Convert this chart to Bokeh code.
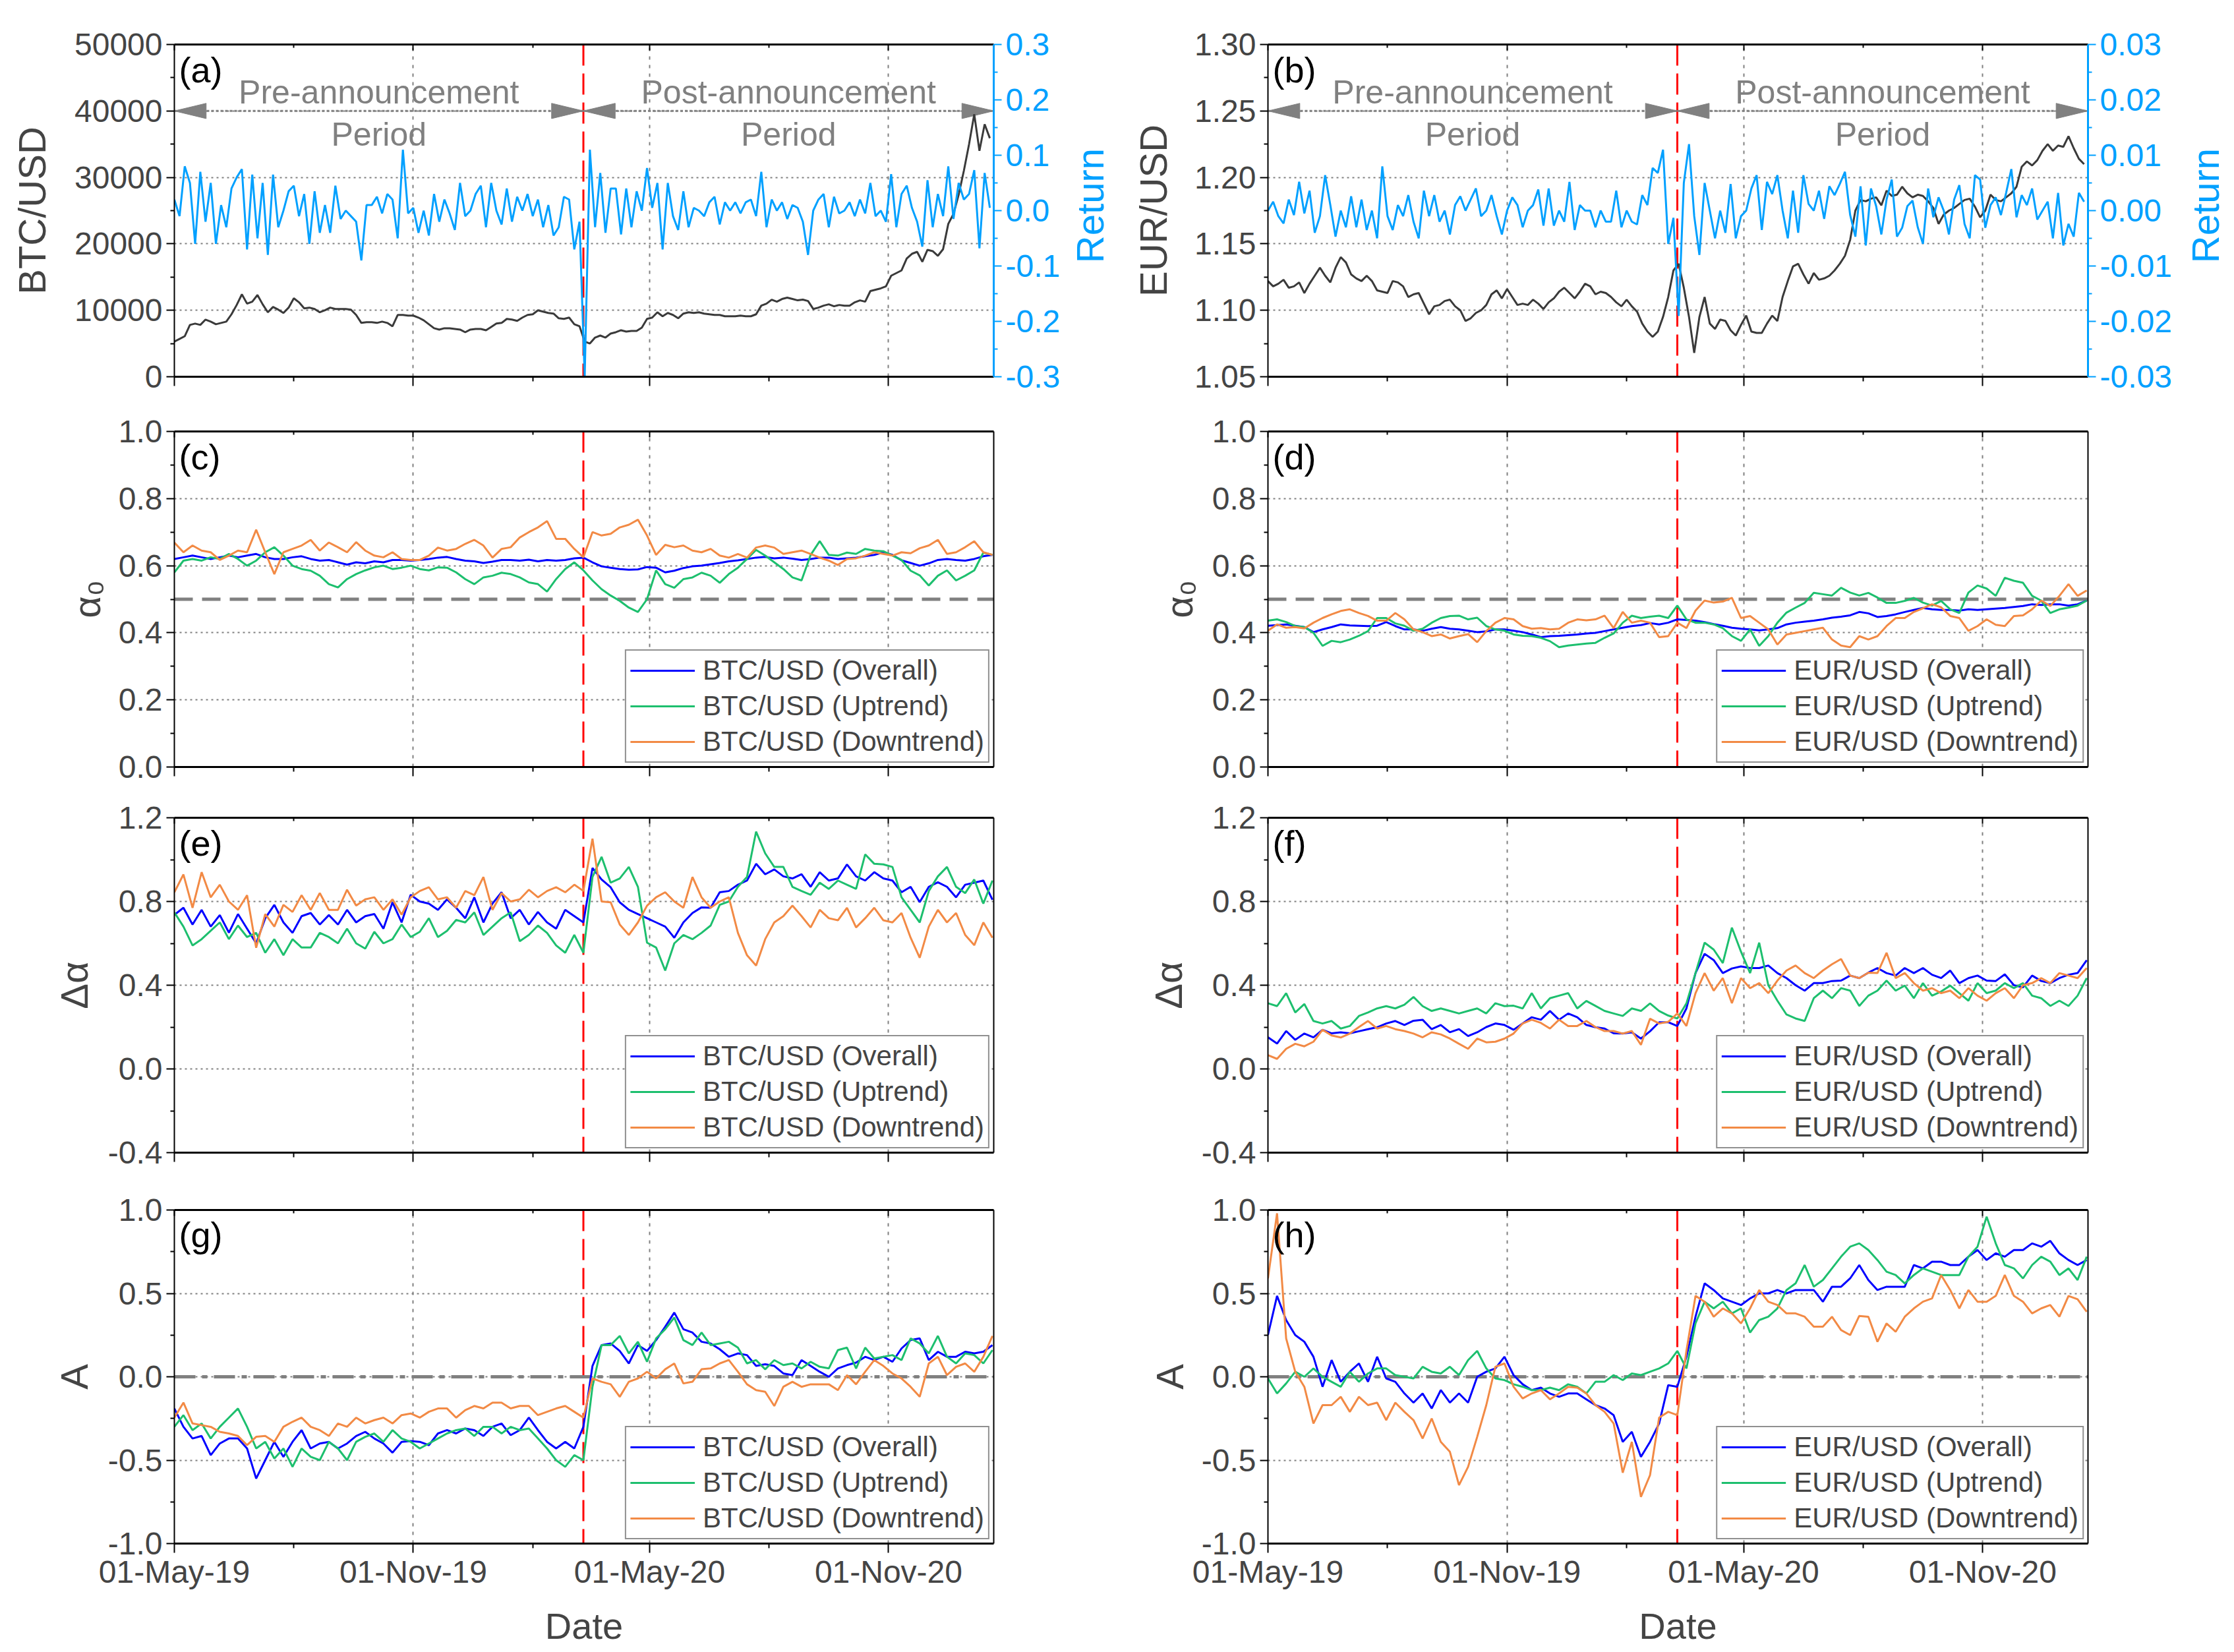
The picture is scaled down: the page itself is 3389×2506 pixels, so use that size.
import math
import pandas as pd
from bokeh.plotting import figure
from bokeh.layouts import column, row
from bokeh.models import (Range1d, LinearAxis, DatetimeAxis, FixedTicker, DatetimeTickFormatter,
                          NumeralTickFormatter, CustomJSTickFormatter, Span, Label)
from bokeh.core.properties import value
from bokeh.embed import file_html
from bokeh.resources import INLINE

# ---------------- data ----------------
START_DATE = "2019-05-01"
END_DATE = "2021-01-21"
EVENT_DATE = "2020-03-11"          # pandemic announcement (red dashed line)
MAJOR_DATES = ["2019-05-01", "2019-11-01", "2020-05-01", "2020-11-01"]
MINOR_DATES = ["2019-08-01", "2020-02-01", "2020-08-01"]
PRICE_STEP_DAYS = 4                # sampling step of price / return series
IND_STEP_DAYS = 7                  # sampling step of indicator series

btc_price = [
    5300, 5700, 6100, 7800, 8000, 7800, 8600, 8300, 7900, 8100,
    8300, 9400, 10800, 12400, 11000, 11300, 12300, 10900, 9700, 10500,
    10100, 9600, 10400, 11800, 11200, 10300, 10400, 10200, 9700, 10000,
    10400, 10200, 10200, 10200, 10100, 9300, 8100, 8200, 8200, 8100,
    8300, 8100, 7600, 9300, 9300, 9200, 9200, 8900, 8500, 7900,
    7300, 7100, 7300, 7300, 7200, 7100, 6700, 7100, 7200, 7200,
    7000, 7500, 8000, 8100, 8700, 8600, 8400, 8900, 9300, 9400,
    10000, 9800, 9600, 9500, 8800, 8700, 8900, 7900, 7600, 5300,
    5000, 5900, 6200, 5900, 6500, 6700, 7000, 6800, 6900, 6900,
    7400, 8700, 8900, 9700, 9100, 9600, 9300, 8800, 9500, 9700,
    9600, 9700, 9500, 9400, 9300, 9300, 9100, 9100, 9100, 9200,
    9100, 9100, 9400, 10700, 11000, 11600, 11300, 11700, 11900, 11700,
    11500, 11600, 11400, 10200, 10400, 10700, 10900, 10600, 10800, 10700,
    10700, 11200, 11500, 11300, 12900, 13100, 13300, 13600, 15200, 15600,
    16000, 17800, 18500, 18800, 17300, 19100, 18900, 18200, 19200, 23000,
    24500, 27400, 31000, 35000, 39500, 34000, 38000, 35900]

btc_return = [
    0.02, -0.01, 0.08, 0.05, -0.06, 0.07, -0.02, 0.05, -0.06, 0.01,
    -0.03, 0.04, 0.06, 0.075, -0.07, 0.065, -0.05, 0.05, -0.08, 0.065,
    -0.03, 0.0, 0.035, 0.045, -0.01, 0.03, -0.06, 0.035, -0.04, 0.01,
    -0.04, 0.045, -0.015, 0.0, -0.01, -0.02, -0.09, 0.01, 0.01, 0.025,
    -0.005, 0.03, 0.02, -0.05, 0.11, -0.005, 0.005, -0.04, 0.0, -0.045,
    0.03, -0.02, 0.02, -0.005, -0.035, 0.05, -0.01, 0.0, 0.03, 0.045,
    -0.03, 0.05, 0.0, -0.025, 0.04, -0.02, 0.025, 0.0, 0.03, -0.01,
    0.02, -0.03, 0.01, -0.045, -0.03, 0.025, 0.02, -0.07, -0.02, -0.30,
    0.11, -0.03, 0.068, -0.04, 0.04, 0.04, -0.043, 0.04, -0.03, 0.035,
    0.0, 0.077, 0.005, 0.05, -0.07, 0.05, -0.01, -0.035, 0.035, -0.03,
    0.005, 0.0, -0.01, 0.015, 0.025, -0.025, 0.015, 0.0, 0.015, -0.005,
    0.015, 0.02, -0.01, 0.07, -0.03, 0.02, 0.0, 0.015, -0.015, 0.01,
    0.005, -0.02, -0.08, 0.0, 0.02, 0.03, -0.03, 0.025, -0.005, 0.0,
    0.015, -0.01, 0.02, -0.005, 0.05, -0.01, 0.0, -0.02, 0.066, -0.03,
    0.03, 0.045, 0.005, -0.02, -0.065, 0.055, -0.03, 0.03, -0.01, 0.08,
    -0.015, 0.05, 0.02, 0.03, 0.073, -0.068, 0.068, 0.005]

eur_price = [
    1.122, 1.118, 1.120, 1.123, 1.117, 1.118, 1.121, 1.113, 1.120, 1.126,
    1.132, 1.126, 1.121, 1.132, 1.140, 1.136, 1.127, 1.124, 1.122, 1.126,
    1.122, 1.115, 1.114, 1.113, 1.122, 1.121, 1.118, 1.110, 1.112, 1.113,
    1.105, 1.097, 1.103, 1.104, 1.107, 1.108, 1.103, 1.100, 1.092, 1.094,
    1.098, 1.100, 1.104, 1.112, 1.115, 1.109, 1.116, 1.110, 1.104, 1.105,
    1.104, 1.108, 1.105, 1.101, 1.106, 1.109, 1.114, 1.117, 1.113, 1.109,
    1.114, 1.120, 1.118, 1.112, 1.114, 1.113, 1.110, 1.106, 1.103, 1.108,
    1.103, 1.099, 1.090, 1.084, 1.080, 1.084, 1.095, 1.110, 1.130, 1.135,
    1.117, 1.095, 1.068, 1.095, 1.110, 1.090, 1.086, 1.093, 1.092, 1.085,
    1.081, 1.089, 1.096, 1.084, 1.083, 1.083, 1.090, 1.096, 1.092, 1.110,
    1.122, 1.133, 1.135, 1.127, 1.120, 1.128, 1.123, 1.124, 1.126, 1.130,
    1.135, 1.141, 1.153, 1.175, 1.183, 1.182, 1.184, 1.185, 1.179, 1.190,
    1.186, 1.187, 1.193, 1.188, 1.185, 1.187, 1.186, 1.182, 1.177, 1.165,
    1.172, 1.175, 1.177, 1.180, 1.183, 1.184, 1.178, 1.170, 1.175, 1.187,
    1.183, 1.182, 1.185, 1.188, 1.193, 1.208, 1.212, 1.209, 1.213, 1.220,
    1.225, 1.220, 1.224, 1.223, 1.231, 1.222, 1.214, 1.210]

eur_return = [
    0.0, 0.0016, -0.001, -0.0023, 0.002, -0.0008, 0.0052, -0.0005, 0.0036, -0.004,
    -0.001, 0.0064, 0.001, -0.0047, 0.0, -0.003, 0.0026, -0.003, 0.002, -0.0035,
    0.0, -0.005, 0.008, -0.001, -0.0035, 0.001, -0.001, 0.0028, -0.002, -0.005,
    0.0036, -0.001, 0.0028, -0.002, 0.0, -0.0043, 0.001, 0.0026, 0.0, 0.002,
    0.004, -0.001, 0.0, 0.0028, -0.001, -0.0043, 0.0, 0.0024, 0.001, -0.003,
    0.0, 0.001, 0.0038, -0.0027, 0.004, -0.0027, 0.0, -0.002, 0.0052, -0.0035,
    0.001, 0.0, 0.0, -0.003, 0.0, -0.002, -0.002, 0.0036, -0.003, 0.0,
    -0.002, -0.0025, 0.0028, 0.001, 0.0077, 0.0068, 0.011, -0.006, -0.0013, -0.019,
    0.005, 0.012, -0.001, -0.008, 0.005, 0.0, -0.005, 0.0, -0.004, 0.0048,
    -0.005, -0.001, 0.0, 0.004, 0.0064, -0.0035, 0.0052, 0.003, 0.0064, 0.0,
    -0.005, 0.0036, -0.004, 0.0064, 0.0012, 0.0, 0.0036, -0.0015, 0.0044, 0.0028,
    0.0048, 0.007, -0.0008, -0.0047, 0.0044, -0.0063, 0.004, 0.0008, -0.0043, 0.002,
    0.0056, -0.0047, -0.0031, 0.0008, 0.0018, -0.003, -0.006, 0.004, -0.0012, 0.0024,
    0.0, -0.0043, 0.002, 0.0046, -0.0024, -0.005, 0.0064, 0.0056, -0.0031, 0.001,
    0.0024, -0.0008, 0.0032, 0.0075, -0.0012, 0.0028, 0.001, 0.004, -0.0016, 0.0,
    0.0016, -0.005, 0.0032, -0.0063, -0.0024, -0.0047, 0.0032, 0.0016]

# (c) alpha0, BTC/USD
c_overall = [
    0.62, 0.625, 0.63, 0.625, 0.62, 0.625, 0.63, 0.625, 0.63, 0.635,
    0.625, 0.62, 0.62, 0.625, 0.628, 0.62, 0.615, 0.617, 0.61, 0.603,
    0.61, 0.607, 0.613, 0.61, 0.617, 0.617, 0.615, 0.617, 0.62, 0.624,
    0.626, 0.62, 0.615, 0.613, 0.608, 0.612, 0.617, 0.617, 0.615, 0.618,
    0.613, 0.617, 0.615, 0.617, 0.622, 0.624, 0.61, 0.598, 0.594, 0.59,
    0.588, 0.589, 0.596, 0.594, 0.58, 0.585, 0.593, 0.598, 0.6, 0.604,
    0.608, 0.613, 0.616, 0.62, 0.624, 0.626, 0.622, 0.624, 0.621, 0.617,
    0.62, 0.624, 0.624, 0.62, 0.622, 0.624, 0.628, 0.632, 0.64, 0.632,
    0.616, 0.608, 0.60, 0.607, 0.617, 0.62, 0.617, 0.615, 0.62, 0.628,
    0.632]
c_uptrend = [
    0.58, 0.615, 0.62, 0.615, 0.625, 0.62, 0.635, 0.62, 0.60, 0.615,
    0.64, 0.655, 0.63, 0.6, 0.59, 0.585, 0.57, 0.545, 0.535, 0.56,
    0.575, 0.586, 0.595, 0.60, 0.59, 0.594, 0.60, 0.59, 0.586, 0.595,
    0.594, 0.58, 0.56, 0.545, 0.565, 0.57, 0.579, 0.575, 0.565, 0.55,
    0.545, 0.523, 0.56, 0.59, 0.61, 0.586, 0.556, 0.53, 0.511, 0.495,
    0.475, 0.462, 0.5, 0.586, 0.545, 0.534, 0.56, 0.565, 0.579, 0.57,
    0.549, 0.575, 0.594, 0.62, 0.647, 0.63, 0.61, 0.59, 0.565, 0.556,
    0.632, 0.673, 0.632, 0.63, 0.639, 0.635, 0.65, 0.645, 0.643, 0.63,
    0.617, 0.585, 0.571, 0.541, 0.57, 0.586, 0.556, 0.57, 0.586, 0.639,
    0.632]
c_downtrend = [
    0.669, 0.64, 0.66, 0.645, 0.64, 0.617, 0.63, 0.645, 0.64, 0.707,
    0.64, 0.575, 0.64, 0.65, 0.66, 0.677, 0.645, 0.669, 0.655, 0.64,
    0.67, 0.645, 0.63, 0.625, 0.64, 0.62, 0.617, 0.617, 0.63, 0.654,
    0.645, 0.65, 0.665, 0.677, 0.66, 0.624, 0.65, 0.655, 0.684, 0.70,
    0.714, 0.733, 0.68, 0.68, 0.65, 0.625, 0.70, 0.69, 0.695, 0.714,
    0.722, 0.737, 0.69, 0.632, 0.662, 0.655, 0.66, 0.645, 0.64, 0.65,
    0.63, 0.624, 0.635, 0.624, 0.654, 0.66, 0.654, 0.635, 0.64, 0.645,
    0.635, 0.624, 0.615, 0.602, 0.62, 0.622, 0.63, 0.64, 0.635, 0.63,
    0.64, 0.637, 0.652, 0.66, 0.677, 0.635, 0.64, 0.655, 0.673, 0.64,
    0.632]

# (d) alpha0, EUR/USD
d_overall = [
    0.421, 0.423, 0.425, 0.421, 0.417, 0.402, 0.41, 0.417, 0.425, 0.422,
    0.421, 0.42, 0.421, 0.432, 0.42, 0.41, 0.41, 0.406, 0.412, 0.417,
    0.412, 0.41, 0.406, 0.402, 0.404, 0.41, 0.41, 0.406, 0.402, 0.395,
    0.387, 0.39, 0.391, 0.393, 0.395, 0.398, 0.40, 0.405, 0.41, 0.415,
    0.42, 0.423, 0.429, 0.425, 0.43, 0.44, 0.438, 0.436, 0.432, 0.426,
    0.421, 0.415, 0.412, 0.41, 0.407, 0.41, 0.414, 0.425, 0.43, 0.433,
    0.436, 0.44, 0.445, 0.448, 0.452, 0.462, 0.458, 0.447, 0.45, 0.455,
    0.462, 0.468, 0.474, 0.47, 0.468, 0.468, 0.466, 0.47, 0.468, 0.47,
    0.472, 0.474, 0.477, 0.48, 0.485, 0.483, 0.485, 0.485, 0.481, 0.485,
    0.496]
d_uptrend = [
    0.436, 0.44, 0.432, 0.42, 0.417, 0.40, 0.361, 0.376, 0.372, 0.38,
    0.391, 0.405, 0.444, 0.444, 0.428, 0.421, 0.406, 0.412, 0.43, 0.444,
    0.45, 0.451, 0.44, 0.445, 0.42, 0.41, 0.406, 0.395, 0.391, 0.39,
    0.385, 0.375, 0.357, 0.362, 0.365, 0.368, 0.37, 0.385, 0.398, 0.43,
    0.451, 0.444, 0.448, 0.451, 0.444, 0.481, 0.44, 0.43, 0.43, 0.425,
    0.414, 0.39, 0.376, 0.41, 0.361, 0.39, 0.43, 0.46, 0.475, 0.489,
    0.519, 0.515, 0.511, 0.534, 0.52, 0.511, 0.519, 0.505, 0.489, 0.489,
    0.495, 0.504, 0.49, 0.481, 0.495, 0.47, 0.459, 0.52, 0.541, 0.532,
    0.51, 0.564, 0.555, 0.549, 0.51, 0.496, 0.459, 0.47, 0.475, 0.481,
    0.496]
d_downtrend = [
    0.406, 0.425, 0.415, 0.417, 0.413, 0.43, 0.444, 0.455, 0.465, 0.47,
    0.459, 0.45, 0.436, 0.436, 0.459, 0.44, 0.41, 0.402, 0.39, 0.395,
    0.383, 0.39, 0.396, 0.372, 0.405, 0.43, 0.444, 0.44, 0.42, 0.412,
    0.414, 0.41, 0.412, 0.43, 0.44, 0.437, 0.44, 0.451, 0.414, 0.462,
    0.43, 0.436, 0.43, 0.387, 0.39, 0.43, 0.414, 0.466, 0.496, 0.49,
    0.493, 0.504, 0.444, 0.45, 0.43, 0.41, 0.365, 0.395, 0.40, 0.405,
    0.41, 0.415, 0.38, 0.362, 0.357, 0.39, 0.38, 0.39, 0.42, 0.444,
    0.444, 0.462, 0.473, 0.485, 0.476, 0.45, 0.444, 0.406, 0.42, 0.44,
    0.424, 0.42, 0.45, 0.452, 0.47, 0.496, 0.48, 0.51, 0.545, 0.51,
    0.526]

# (e) delta alpha, BTC/USD
e_overall = [
    0.736, 0.77, 0.69, 0.76, 0.68, 0.735, 0.651, 0.74, 0.67, 0.60,
    0.72, 0.784, 0.70, 0.65, 0.73, 0.745, 0.69, 0.735, 0.69, 0.76,
    0.70, 0.73, 0.74, 0.67, 0.796, 0.70, 0.832, 0.80, 0.79, 0.76,
    0.81, 0.77, 0.72, 0.82, 0.70, 0.79, 0.844, 0.72, 0.76, 0.69,
    0.75, 0.70, 0.67, 0.76, 0.73, 0.70, 0.96, 0.905, 0.868, 0.796,
    0.76, 0.74, 0.72, 0.70, 0.68, 0.627, 0.70, 0.745, 0.772, 0.77,
    0.844, 0.85, 0.88, 0.90, 0.98, 0.93, 0.953, 0.92, 0.91, 0.93,
    0.87, 0.94, 0.90, 0.91, 0.977, 0.92, 0.90, 0.94, 0.91, 0.90,
    0.844, 0.87, 0.797, 0.87, 0.892, 0.87, 0.82, 0.88, 0.89, 0.90,
    0.808]
e_uptrend = [
    0.748, 0.68, 0.59, 0.62, 0.66, 0.70, 0.62, 0.685, 0.63, 0.65,
    0.555, 0.62, 0.543, 0.62, 0.58, 0.58, 0.65, 0.63, 0.60, 0.67,
    0.60, 0.575, 0.655, 0.60, 0.62, 0.69, 0.63, 0.655, 0.72, 0.63,
    0.66, 0.712, 0.70, 0.748, 0.64, 0.68, 0.72, 0.748, 0.61, 0.64,
    0.685, 0.65, 0.59, 0.555, 0.64, 0.555, 0.917, 1.013, 0.89, 0.91,
    0.965, 0.87, 0.603, 0.58, 0.47, 0.60, 0.64, 0.62, 0.65, 0.685,
    0.784, 0.80, 0.87, 0.917, 1.134, 1.03, 0.965, 0.965, 0.87, 0.85,
    0.832, 0.89, 0.86, 0.90, 0.88, 0.86, 1.025, 0.98, 0.977, 0.965,
    0.82, 0.76, 0.70, 0.85, 0.92, 0.965, 0.87, 0.84, 0.905, 0.79,
    0.90]
e_downtrend = [
    0.844, 0.929, 0.77, 0.94, 0.82, 0.88, 0.80, 0.76, 0.83, 0.579,
    0.74, 0.68, 0.784, 0.75, 0.83, 0.76, 0.84, 0.76, 0.76, 0.856,
    0.78, 0.81, 0.82, 0.76, 0.81, 0.737, 0.82, 0.85, 0.868, 0.81,
    0.82, 0.77, 0.85, 0.83, 0.917, 0.76, 0.84, 0.80, 0.81, 0.856,
    0.82, 0.85, 0.868, 0.844, 0.88, 0.85, 1.10, 0.80, 0.796, 0.69,
    0.64, 0.70, 0.78, 0.82, 0.844, 0.80, 0.77, 0.917, 0.82, 0.77,
    0.80, 0.82, 0.65, 0.543, 0.494, 0.62, 0.70, 0.73, 0.78, 0.73,
    0.676, 0.76, 0.72, 0.71, 0.77, 0.676, 0.72, 0.77, 0.71, 0.70,
    0.745, 0.627, 0.531, 0.68, 0.76, 0.70, 0.745, 0.64, 0.591, 0.70,
    0.627]

# (f) delta alpha, EUR/USD
f_overall = [
    0.151, 0.121, 0.181, 0.139, 0.169, 0.151, 0.187, 0.17, 0.175, 0.17,
    0.18, 0.19, 0.199, 0.217, 0.229, 0.21, 0.23, 0.235, 0.19, 0.21,
    0.175, 0.19, 0.157, 0.175, 0.20, 0.217, 0.21, 0.187, 0.217, 0.247,
    0.235, 0.277, 0.235, 0.265, 0.247, 0.21, 0.199, 0.193, 0.17, 0.169,
    0.175, 0.145, 0.18, 0.223, 0.223, 0.205, 0.289, 0.458, 0.55, 0.52,
    0.458, 0.48, 0.49, 0.482, 0.482, 0.494, 0.458, 0.434, 0.40, 0.374,
    0.41, 0.41, 0.42, 0.422, 0.446, 0.434, 0.46, 0.482, 0.458, 0.446,
    0.482, 0.458, 0.482, 0.45, 0.434, 0.47, 0.41, 0.434, 0.446, 0.422,
    0.42, 0.452, 0.40, 0.39, 0.446, 0.42, 0.41, 0.434, 0.45, 0.458,
    0.519]
f_uptrend = [
    0.314, 0.30, 0.362, 0.27, 0.31, 0.229, 0.217, 0.229, 0.193, 0.205,
    0.253, 0.27, 0.289, 0.30, 0.289, 0.307, 0.344, 0.30, 0.277, 0.289,
    0.277, 0.265, 0.277, 0.289, 0.265, 0.314, 0.30, 0.302, 0.289, 0.362,
    0.289, 0.338, 0.35, 0.362, 0.289, 0.325, 0.301, 0.277, 0.265, 0.253,
    0.289, 0.277, 0.313, 0.277, 0.255, 0.241, 0.313, 0.458, 0.603, 0.57,
    0.506, 0.675, 0.56, 0.458, 0.603, 0.40, 0.326, 0.26, 0.241, 0.229,
    0.338, 0.374, 0.338, 0.386, 0.374, 0.301, 0.35, 0.374, 0.422, 0.374,
    0.398, 0.338, 0.41, 0.35, 0.37, 0.398, 0.362, 0.326, 0.41, 0.362,
    0.374, 0.41, 0.386, 0.41, 0.35, 0.338, 0.301, 0.326, 0.301, 0.35,
    0.434]
f_downtrend = [
    0.066, 0.048, 0.096, 0.12, 0.108, 0.13, 0.187, 0.16, 0.15, 0.169,
    0.2, 0.229, 0.193, 0.205, 0.19, 0.181, 0.169, 0.151, 0.175, 0.165,
    0.145, 0.12, 0.096, 0.145, 0.127, 0.13, 0.145, 0.169, 0.217, 0.235,
    0.22, 0.193, 0.235, 0.205, 0.205, 0.229, 0.20, 0.181, 0.181, 0.169,
    0.181, 0.115, 0.24, 0.217, 0.225, 0.265, 0.205, 0.362, 0.458, 0.374,
    0.434, 0.314, 0.434, 0.386, 0.41, 0.362, 0.422, 0.47, 0.494, 0.458,
    0.434, 0.47, 0.50, 0.525, 0.446, 0.434, 0.46, 0.458, 0.555, 0.434,
    0.458, 0.41, 0.374, 0.386, 0.362, 0.374, 0.338, 0.386, 0.35, 0.326,
    0.362, 0.386, 0.338, 0.40, 0.41, 0.434, 0.41, 0.458, 0.446, 0.434,
    0.482]

# (g) A, BTC/USD
g_overall = [
    -0.19, -0.30, -0.37, -0.355, -0.47, -0.40, -0.37, -0.37, -0.43, -0.61,
    -0.50, -0.39, -0.48, -0.39, -0.32, -0.43, -0.40, -0.39, -0.43, -0.40,
    -0.355, -0.33, -0.37, -0.40, -0.455, -0.39, -0.385, -0.39, -0.41, -0.34,
    -0.32, -0.34, -0.31, -0.32, -0.355, -0.30, -0.28, -0.35, -0.32, -0.245,
    -0.32, -0.39, -0.43, -0.39, -0.43, -0.30, 0.065, 0.19, 0.20, 0.155,
    0.08, 0.19, 0.155, 0.22, 0.30, 0.385, 0.285, 0.265, 0.21, 0.20,
    0.165, 0.12, 0.14, 0.13, 0.065, 0.075, 0.065, 0.02, 0.01, 0.10,
    0.065, 0.03, 0.0, 0.05, 0.07, 0.085, 0.12, 0.10, 0.12, 0.09,
    0.17, 0.22, 0.23, 0.10, 0.15, 0.12, 0.12, 0.15, 0.14, 0.15,
    0.19]
g_uptrend = [
    -0.30, -0.23, -0.32, -0.28, -0.37, -0.30, -0.245, -0.19, -0.30, -0.43,
    -0.39, -0.49, -0.43, -0.54, -0.43, -0.48, -0.50, -0.39, -0.43, -0.50,
    -0.39, -0.36, -0.34, -0.39, -0.32, -0.37, -0.39, -0.43, -0.40, -0.37,
    -0.34, -0.32, -0.31, -0.355, -0.30, -0.30, -0.34, -0.30, -0.32, -0.31,
    -0.37, -0.43, -0.50, -0.54, -0.47, -0.50, -0.06, 0.19, 0.19, 0.245,
    0.14, 0.21, 0.09, 0.23, 0.285, 0.355, 0.22, 0.19, 0.265, 0.19,
    0.20, 0.21, 0.175, 0.08, 0.10, 0.045, 0.10, 0.07, 0.08, 0.05,
    0.09, 0.06, 0.05, 0.16, 0.175, 0.05, 0.175, 0.11, 0.12, 0.13,
    0.10, 0.23, 0.20, 0.14, 0.245, 0.12, 0.08, 0.14, 0.13, 0.08,
    0.16]
g_downtrend = [
    -0.245, -0.155, -0.28, -0.29, -0.30, -0.33, -0.34, -0.355, -0.41, -0.36,
    -0.355, -0.39, -0.30, -0.27, -0.245, -0.30, -0.32, -0.355, -0.28, -0.30,
    -0.245, -0.28, -0.26, -0.245, -0.28, -0.23, -0.22, -0.245, -0.21, -0.19,
    -0.19, -0.245, -0.20, -0.175, -0.19, -0.155, -0.155, -0.19, -0.175, -0.175,
    -0.23, -0.21, -0.19, -0.175, -0.21, -0.245, -0.01, -0.03, -0.045, -0.12,
    -0.03, -0.01, 0.03, -0.01, 0.045, 0.08, -0.04, -0.03, 0.045, 0.05,
    0.08, 0.10, 0.03, -0.045, -0.08, -0.09, -0.175, -0.06, -0.03, -0.06,
    -0.045, -0.045, -0.045, -0.08, 0.01, -0.045, 0.03, 0.10, 0.065, 0.02,
    -0.01, -0.06, -0.12, 0.08, 0.12, 0.01, 0.06, 0.08, 0.03, 0.12,
    0.245]

# (h) A, EUR/USD
h_overall = [
    0.25, 0.485, 0.34, 0.25, 0.21, 0.12, -0.06, 0.10, -0.03, 0.03,
    0.08, -0.03, 0.12, -0.01, -0.03, -0.10, -0.155, -0.10, -0.19, -0.08,
    -0.155, -0.10, -0.155, 0.0, 0.03, 0.05, 0.12, 0.01, -0.045, -0.08,
    -0.065, -0.10, -0.12, -0.10, -0.10, -0.135, -0.17, -0.19, -0.23, -0.39,
    -0.33, -0.48, -0.39, -0.28, -0.05, -0.06, 0.12, 0.36, 0.56, 0.52,
    0.47, 0.45, 0.43, 0.47, 0.50, 0.50, 0.52, 0.50, 0.52, 0.52,
    0.52, 0.45, 0.54, 0.54, 0.59, 0.67, 0.58, 0.52, 0.54, 0.54,
    0.54, 0.67, 0.65, 0.69, 0.69, 0.67, 0.67, 0.72, 0.76, 0.70,
    0.74, 0.72, 0.76, 0.76, 0.80, 0.78, 0.815, 0.74, 0.70, 0.67,
    0.70]
h_uptrend = [
    -0.01, -0.10, -0.04, 0.03, 0.0, 0.05, 0.0, -0.03, -0.06, 0.03,
    -0.03, 0.02, 0.05, 0.05, 0.01, 0.0, -0.01, 0.06, 0.03, 0.02,
    0.06, 0.01, 0.10, 0.155, 0.05, -0.01, -0.02, -0.045, -0.06, -0.08,
    -0.08, -0.065, -0.08, -0.045, -0.06, -0.10, -0.03, -0.03, 0.01, -0.02,
    0.02, 0.01, 0.03, 0.05, 0.08, 0.155, 0.05, 0.32, 0.45, 0.41,
    0.45, 0.38, 0.41, 0.265, 0.34, 0.36, 0.41, 0.52, 0.56, 0.67,
    0.54, 0.58, 0.65, 0.72, 0.78, 0.80, 0.76, 0.70, 0.63, 0.61,
    0.56, 0.61, 0.65, 0.63, 0.61, 0.61, 0.61, 0.72, 0.78, 0.96,
    0.80, 0.67, 0.65, 0.59, 0.67, 0.72, 0.69, 0.61, 0.65, 0.58,
    0.72]
h_downtrend = [
    0.59, 0.98, 0.23, 0.03, -0.06, -0.28, -0.17, -0.17, -0.12, -0.21,
    -0.12, -0.17, -0.155, -0.26, -0.155, -0.21, -0.26, -0.37, -0.25, -0.39,
    -0.45, -0.65, -0.54, -0.36, -0.17, 0.06, 0.08, -0.06, -0.13, -0.10,
    -0.08, -0.135, -0.10, -0.06, -0.065, -0.10, -0.17, -0.21, -0.28, -0.575,
    -0.39, -0.72, -0.59, -0.245, -0.21, -0.23, 0.155, 0.485, 0.45, 0.36,
    0.41, 0.38, 0.32, 0.41, 0.52, 0.45, 0.43, 0.38, 0.38, 0.36,
    0.30, 0.30, 0.36, 0.28, 0.25, 0.365, 0.36, 0.21, 0.32, 0.27,
    0.36, 0.41, 0.45, 0.47, 0.61, 0.52, 0.41, 0.52, 0.45, 0.45,
    0.485, 0.61, 0.485, 0.45, 0.38, 0.41, 0.43, 0.36, 0.485, 0.465,
    0.39]

# ---------------- styling ----------------
FONT = "Liberation Sans"
C_PRICE = "#3A3A3A"
C_RET = "#00A0FF"
C_OVR, C_UP, C_DN = "#0000FF", "#1DBF6E", "#F28A45"
GRAY = "#808080"
DAY_MS = 86400000.0
TICK_FS = "48px"
TITLE_FS = "58px"

COL_W = [1705, 1676]
COL_BL = [264, 218]
COL_BR = [198, 214]
ROW_H = [612, 588, 590, 710]
ROW_BT = [67, 42, 40, 45]
ROW_BB = [41, 37, 42, 158]
# first row: narrow text strips carry the "Return" titles
RET_STRIP_W = [85, 85]
RET_STRIP_CX = [33, 41]
RET_RAISE = 22

BLANK = CustomJSTickFormatter(code="return ''")


def ms(d):
    return (pd.Timestamp(d) - pd.Timestamp("1970-01-01")) / pd.Timedelta(milliseconds=1)


def xs(n, step):
    return [ms(START_DATE) + i * step * DAY_MS for i in range(n)]


def frame_h(r):
    return ROW_H[r] - ROW_BT[r] - ROW_BB[r]


def base_fig(col, r, ylo, yhi, yticks, yminor, yfmt, ytitle, ystandoff, xlabels, width=None, br=None):
    p = figure(width=width or COL_W[col], height=ROW_H[r], title=None,
               min_border_left=COL_BL[col], min_border_right=br if br is not None else COL_BR[col],
               min_border_top=ROW_BT[r], min_border_bottom=ROW_BB[r],
               x_range=Range1d(ms(START_DATE), ms(END_DATE)), y_range=Range1d(ylo, yhi),
               x_axis_type="datetime", output_backend="svg", toolbar_location=None)
    p.outline_line_color = None
    p.background_fill_color = "white"
    p.border_fill_color = "white"

    xt = FixedTicker(ticks=[ms(d) for d in MAJOR_DATES], minor_ticks=[ms(d) for d in MINOR_DATES])
    xa = p.xaxis[0]
    xa.ticker = xt
    xa.axis_line_width = 3
    xa.major_tick_out = 14
    xa.major_tick_in = 0
    xa.minor_tick_out = 7
    xa.minor_tick_in = 0
    xa.major_tick_line_width = 2
    xa.minor_tick_line_width = 2
    xa.major_label_text_font = FONT
    xa.major_label_standoff = 2
    if xlabels:
        xa.formatter = DatetimeTickFormatter(days="%d-%b-%y", months="%d-%b-%y", years="%d-%b-%y")
        xa.major_label_text_font_size = TICK_FS
        xa.axis_label = "Date"
        xa.axis_label_text_font = FONT
        xa.axis_label_text_font_size = "56px"
        xa.axis_label_text_font_style = "normal"
        xa.axis_label_standoff = 21
    else:
        xa.formatter = BLANK
        xa.major_label_text_font_size = "2px"

    top = DatetimeAxis(ticker=xt, formatter=BLANK, major_label_text_font_size="2px",
                       major_tick_in=9, major_tick_out=0, minor_tick_in=5, minor_tick_out=0,
                       axis_line_width=3, major_tick_line_width=2, minor_tick_line_width=2)
    p.add_layout(top, "above")

    ya = p.yaxis[0]
    ya.ticker = FixedTicker(ticks=yticks, minor_ticks=yminor)
    ya.formatter = NumeralTickFormatter(format=yfmt)
    ya.axis_line_width = 2
    ya.major_tick_out = 12
    ya.major_tick_in = 0
    ya.minor_tick_out = 6
    ya.minor_tick_in = 0
    ya.major_tick_line_width = 2
    ya.minor_tick_line_width = 2
    ya.major_label_text_font = FONT
    ya.major_label_text_font_size = TICK_FS
    ya.major_label_standoff = 6
    ya.axis_label = ytitle
    ya.axis_label_text_font = FONT
    ya.axis_label_text_font_size = TITLE_FS
    ya.axis_label_text_font_style = "normal"
    ya.axis_label_standoff = ystandoff

    p.ygrid.ticker = FixedTicker(ticks=[t for t in yticks if ylo < t < yhi])
    p.ygrid.grid_line_color = GRAY
    p.ygrid.grid_line_dash = "3 5"
    p.ygrid.grid_line_width = 2
    p.xgrid.ticker = FixedTicker(ticks=[ms(d) for d in MAJOR_DATES[1:]])
    p.xgrid.grid_line_color = GRAY
    p.xgrid.grid_line_dash = "5 8"
    p.xgrid.grid_line_width = 2

    p.add_layout(Span(location=ms(EVENT_DATE), dimension="height", line_color="#FF0000",
                      line_width=3, line_dash="32 12", level="underlay"))
    return p


def plain_right(p):
    ax = LinearAxis(ticker=FixedTicker(ticks=[]), formatter=BLANK, major_label_text_font_size="2px",
                    major_tick_out=0, minor_tick_out=0, axis_line_width=2)
    p.add_layout(ax, "right")


def return_axis(p, lo, hi, ticks, minor, fmt):
    p.extra_y_ranges = {"ret": Range1d(lo, hi)}
    ax = LinearAxis(y_range_name="ret", ticker=FixedTicker(ticks=ticks, minor_ticks=minor),
                    formatter=NumeralTickFormatter(format=fmt))
    ax.axis_line_color = C_RET
    ax.axis_line_width = 3
    ax.major_tick_line_color = C_RET
    ax.minor_tick_line_color = C_RET
    ax.major_tick_line_width = 2
    ax.minor_tick_line_width = 2
    ax.major_tick_out = 12
    ax.major_tick_in = 0
    ax.minor_tick_out = 6
    ax.minor_tick_in = 0
    ax.major_label_text_color = C_RET
    ax.major_label_text_font = FONT
    ax.major_label_text_font_size = TICK_FS
    ax.major_label_standoff = 6
    p.add_layout(ax, "right")


def title_strip(width, height, cx, cy, s, color):
    """A narrow blank canvas that only carries a rotated axis title (reads bottom-to-top)."""
    s_fig = figure(width=width, height=height, title=None, x_range=Range1d(0, width), y_range=Range1d(0, height),
                   min_border_left=0, min_border_right=0, min_border_top=0, min_border_bottom=0,
                   x_axis_location=None, y_axis_location=None, output_backend="svg", toolbar_location=None)
    s_fig.outline_line_color = None
    s_fig.background_fill_color = "white"
    s_fig.border_fill_color = "white"
    s_fig.grid.visible = False
    s_fig.text(x=[cx], y=[cy], text=[s], angle=math.pi / 2, text_font=value(FONT),
               text_font_size=value(TITLE_FS), text_color=color, text_align="center", text_baseline="middle")
    return s_fig


def panel_letter(p, r, s):
    p.add_layout(Label(x=7, y=frame_h(r) - 8, x_units="screen", y_units="screen", text=s,
                       text_font=FONT, text_font_size="54px", text_color="black",
                       text_align="left", text_baseline="top"))


def period_arrows(p, yval, half_h):
    x0, xe, x1 = ms(START_DATE), ms(EVENT_DATE), ms(END_DATE)
    hl = 24.5 * DAY_MS
    for a, b, name in [(x0, xe, "Pre-announcement"), (xe, x1, "Post-announcement")]:
        p.line([a, b], [yval, yval], line_color=GRAY, line_width=3, line_dash="4 3")
        p.patches(xs=[[a, a + hl, a + hl], [b, b - hl, b - hl]],
                  ys=[[yval, yval + half_h, yval - half_h], [yval, yval + half_h, yval - half_h]],
                  fill_color=GRAY, line_color=GRAY)
        mid = (a + b) / 2.0
        p.add_layout(Label(x=mid, y=yval, y_offset=28, text=name,
                           text_font=FONT, text_font_size="50px", text_color=GRAY,
                           text_align="center", text_baseline="middle"))
        p.add_layout(Label(x=mid, y=yval, y_offset=-36, text="Period",
                           text_font=FONT, text_font_size="50px", text_color=GRAY,
                           text_align="center", text_baseline="middle"))


def three_lines(p, prefix, s_ovr, s_up, s_dn):
    p.line(xs(len(s_ovr), IND_STEP_DAYS), s_ovr, line_color=C_OVR, line_width=3, legend_label=prefix + " (Overall)")
    p.line(xs(len(s_up), IND_STEP_DAYS), s_up, line_color=C_UP, line_width=3, legend_label=prefix + " (Uptrend)")
    p.line(xs(len(s_dn), IND_STEP_DAYS), s_dn, line_color=C_DN, line_width=3, legend_label=prefix + " (Downtrend)")
    lg = p.legend[0]
    lg.location = "bottom_right"
    lg.label_text_font = FONT
    lg.label_text_font_size = "42px"
    lg.glyph_width = 98
    lg.glyph_height = 44
    lg.label_height = 44
    lg.label_standoff = 12
    lg.spacing = 6
    lg.padding = 6
    lg.margin = 6
    lg.border_line_color = "#222222"
    lg.border_line_width = 2
    lg.background_fill_alpha = 1.0


# ---------------- panel (a) ----------------
wa = COL_W[0] - RET_STRIP_W[0]
pa = base_fig(0, 0, 0, 50000, [0, 10000, 20000, 30000, 40000, 50000],
              [5000, 15000, 25000, 35000, 45000], "0", "BTC/USD", 29, False,
              width=wa, br=COL_BR[0] - RET_STRIP_W[0])
return_axis(pa, -0.3, 0.3, [-0.3, -0.2, -0.1, 0.0, 0.1, 0.2, 0.3],
            [-0.25, -0.15, -0.05, 0.05, 0.15, 0.25], "0.0")
period_arrows(pa, 40000, 1150)
pa.line(xs(len(btc_price), PRICE_STEP_DAYS), btc_price, line_color=C_PRICE, line_width=3)
pa.line(xs(len(btc_return), PRICE_STEP_DAYS), btc_return, line_color=C_RET, line_width=3, y_range_name="ret")
panel_letter(pa, 0, "(a)")
cy0 = ROW_BB[0] + frame_h(0) / 2.0 + RET_RAISE
la = title_strip(RET_STRIP_W[0], ROW_H[0], RET_STRIP_CX[0], cy0, "Return", C_RET)

# ---------------- panel (b) ----------------
wb = 3389 - COL_W[0] - RET_STRIP_W[1]
pb = base_fig(1, 0, 1.05, 1.30, [1.05, 1.10, 1.15, 1.20, 1.25, 1.30],
              [1.075, 1.125, 1.175, 1.225, 1.275], "0.00", "EUR/USD", 27, False,
              width=wb, br=wb - COL_BL[1] - 1244)
return_axis(pb, -0.03, 0.03, [-0.03, -0.02, -0.01, 0.0, 0.01, 0.02, 0.03],
            [-0.025, -0.015, -0.005, 0.005, 0.015, 0.025], "0.00")
period_arrows(pb, 1.25, 0.00575)
pb.line(xs(len(eur_price), PRICE_STEP_DAYS), eur_price, line_color=C_PRICE, line_width=3)
pb.line(xs(len(eur_return), PRICE_STEP_DAYS), eur_return, line_color=C_RET, line_width=3, y_range_name="ret")
panel_letter(pb, 0, "(b)")
lb = title_strip(RET_STRIP_W[1], ROW_H[0], RET_STRIP_CX[1], cy0, "Return", C_RET)

# ---------------- panels (c), (d) ----------------
A0_T, A0_M = [0.0, 0.2, 0.4, 0.6, 0.8, 1.0], [0.1, 0.3, 0.5, 0.7, 0.9]
pc = base_fig(0, 1, 0.0, 1.0, A0_T, A0_M, "0.0", "α₀", 13, False)
pd_ = base_fig(1, 1, 0.0, 1.0, A0_T, A0_M, "0.0", "α₀", 15, False)
for p, pre, so, su, sd, letter in [(pc, "BTC/USD", c_overall, c_uptrend, c_downtrend, "(c)"),
                                   (pd_, "EUR/USD", d_overall, d_uptrend, d_downtrend, "(d)")]:
    plain_right(p)
    p.add_layout(Span(location=0.5, dimension="width", line_color=GRAY, line_width=5,
                      line_dash="28 14", level="underlay"))
    three_lines(p, pre, so, su, sd)
    panel_letter(p, 1, letter)

# ---------------- panels (e), (f) ----------------
DA_T, DA_M = [-0.4, 0.0, 0.4, 0.8, 1.2], [-0.2, 0.2, 0.6, 1.0]
pe = base_fig(0, 2, -0.4, 1.2, DA_T, DA_M, "0.0", "Δα", 16, False)
pf = base_fig(1, 2, -0.4, 1.2, DA_T, DA_M, "0.0", "Δα", 15, False)
for p, pre, so, su, sd, letter in [(pe, "BTC/USD", e_overall, e_uptrend, e_downtrend, "(e)"),
                                   (pf, "EUR/USD", f_overall, f_uptrend, f_downtrend, "(f)")]:
    plain_right(p)
    three_lines(p, pre, so, su, sd)
    panel_letter(p, 2, letter)

# ---------------- panels (g), (h) ----------------
AS_T, AS_M = [-1.0, -0.5, 0.0, 0.5, 1.0], [-0.75, -0.25, 0.25, 0.75]
pg = base_fig(0, 3, -1.0, 1.0, AS_T, AS_M, "0.0", "A", 16, True)
ph = base_fig(1, 3, -1.0, 1.0, AS_T, AS_M, "0.0", "A", 13, True)
for p, pre, so, su, sd, letter in [(pg, "BTC/USD", g_overall, g_uptrend, g_downtrend, "(g)"),
                                   (ph, "EUR/USD", h_overall, h_uptrend, h_downtrend, "(h)")]:
    plain_right(p)
    p.add_layout(Span(location=0.0, dimension="width", line_color=GRAY, line_width=5,
                      line_dash="32 10 8 10", level="underlay"))
    three_lines(p, pre, so, su, sd)
    panel_letter(p, 3, letter)

layout = column(row(pa, la, pb, lb), row(pc, pd_), row(pe, pf), row(pg, ph))

with open("out.html", "w") as fh:
    fh.write(file_html(layout, INLINE, title="BTC/USD and EUR/USD multifractal indicators"))
